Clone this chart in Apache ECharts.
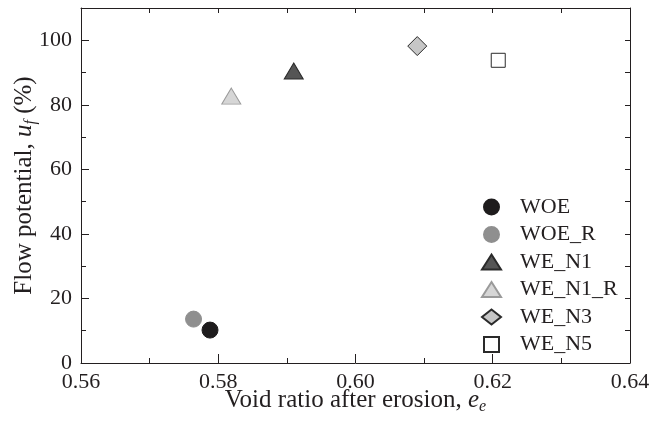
<!DOCTYPE html>
<html>
<head>
<meta charset="utf-8">
<script src="https://cdn.jsdelivr.net/npm/echarts@6/dist/echarts.min.js"></script>
<style>
  html, body { margin: 0; padding: 0; background: #fff; }
  #chart { width: 660px; height: 422px; }
</style>
</head>
<body>
<div id="chart"></div>
<script>
// Flow potential vs. void ratio after erosion, one marker per test
const seriesNames = ['WOE', 'WOE_R', 'WE_N1', 'WE_N1_R', 'WE_N3', 'WE_N5'];
const voidRatio   = [0.5788, 0.5764, 0.5910, 0.5819, 0.6090, 0.6208];
const flowPot     = [10.2, 13.6, 90.5, 82.7, 98.2, 93.8];
const xTicks = [0.56, 0.58, 0.60, 0.62, 0.64];
const yTicks = [0, 20, 40, 60, 80, 100];

const ink = '#231f20';
const font = 'Liberation Serif, Times New Roman, serif';

const markerStyles = [
  { symbol: 'circle',   size: 16, fill: '#1e1c1d', stroke: '#1e1c1d', icon: 'circle' },
  { symbol: 'circle',   size: 16, fill: '#8f8f8f', stroke: '#8f8f8f', icon: 'circle' },
  { symbol: 'triangle', size: [19, 16], fill: '#555555', stroke: '#2a2a2a', icon: 'triangle' },
  { symbol: 'triangle', size: [19, 16], fill: '#d6d6d6', stroke: '#9a9a9a', icon: 'triangle' },
  { symbol: 'diamond',  size: [19, 19], fill: '#c6c6c6', stroke: '#2a2a2a', icon: 'diamond' },
  { symbol: 'rect',     size: [14, 14], fill: '#ffffff', stroke: '#2a2a2a', icon: 'path://M0,0L10,0L10,10L0,10Z' }
];

const series = seriesNames.map((name, i) => ({
  name: name,
  type: 'scatter',
  xAxisIndex: 0,
  yAxisIndex: 0,
  symbol: markerStyles[i].symbol,
  symbolSize: markerStyles[i].size,
  itemStyle: {
    color: markerStyles[i].fill,
    borderColor: markerStyles[i].stroke,
    borderWidth: 1,
    opacity: 1
  },
  data: [[voidRatio[i], flowPot[i]]]
}));

const tickFmt = (list, digits) => v => {
  const hit = list.find(t => Math.abs(t - v) < 1e-9);
  return hit === undefined ? '' : hit.toFixed(digits);
};

const frameAxis = {
  axisLine: { show: true, onZero: false, lineStyle: { color: ink, width: 1 } },
  splitLine: { show: false }
};

const titleRich = {
  i: { fontFamily: font, fontSize: 25, fontStyle: 'italic', color: ink },
  sub: { fontFamily: font, fontSize: 16, fontStyle: 'italic', color: ink, padding: [14, 0, 0, 0] }
};

const chart = echarts.init(document.getElementById('chart'), null, { renderer: 'canvas' });
chart.setOption({
  animation: false,
  backgroundColor: '#ffffff',
  grid: { left: 81, right: 30, top: 8, bottom: 59, containLabel: false, outerBoundsMode: 'none' },
  textStyle: { fontFamily: font, color: ink },
  legend: {
    orient: 'vertical',
    left: 476,
    top: 191,
    itemGap: 5.5,
    itemWidth: 19,
    itemHeight: 15,
    textStyle: { fontFamily: font, fontSize: 22, color: ink, padding: [0, 0, 0, 14] },
    data: seriesNames.map((n, i) => ({
      name: n,
      icon: markerStyles[i].icon
    }))
  },
  xAxis: [
    Object.assign({
      type: 'value',
      position: 'bottom',
      min: 0.56, max: 0.64, interval: 0.02,
      axisTick: { show: true, inside: true, length: 9, lineStyle: { color: ink } },
      minorTick: { show: true, splitNumber: 2, length: 5, lineStyle: { color: ink } },
      axisLabel: { fontFamily: font, fontSize: 22, color: ink, margin: 8, formatter: tickFmt(xTicks, 2) },
      name: 'Void ratio after erosion, {i|e}{sub|e}',
      nameLocation: 'middle',
      nameGap: 22,
      nameMoveOverlap: false,
      nameTextStyle: { fontFamily: font, fontSize: 25, color: ink, rich: titleRich }
    }, frameAxis),
    Object.assign({
      type: 'value',
      position: 'top',
      min: 0.56, max: 0.64, interval: 0.01,
      axisTick: { show: true, inside: true, length: 5, lineStyle: { color: ink } },
      axisLabel: { show: false }
    }, frameAxis)
  ],
  yAxis: [
    Object.assign({
      type: 'value',
      position: 'left',
      min: 0, max: 110, interval: 20,
      axisTick: { show: true, inside: true, length: 8, lineStyle: { color: ink } },
      minorTick: { show: true, splitNumber: 2, length: 5, lineStyle: { color: ink } },
      axisLabel: {
        fontFamily: font, fontSize: 22, color: ink, margin: 9,
        showMaxLabel: false,
        formatter: tickFmt(yTicks, 0)
      },
      name: 'Flow potential, {i|u}{sub|f} (%)',
      nameLocation: 'middle',
      nameGap: 42,
      nameMoveOverlap: false,
      nameTextStyle: { fontFamily: font, fontSize: 25, color: ink, rich: titleRich }
    }, frameAxis),
    Object.assign({
      type: 'value',
      position: 'right',
      min: 0, max: 110, interval: 10,
      axisTick: { show: true, inside: true, length: 5, lineStyle: { color: ink } },
      axisLabel: { show: false }
    }, frameAxis)
  ],
  series: series
});
</script>
</body>
</html>
